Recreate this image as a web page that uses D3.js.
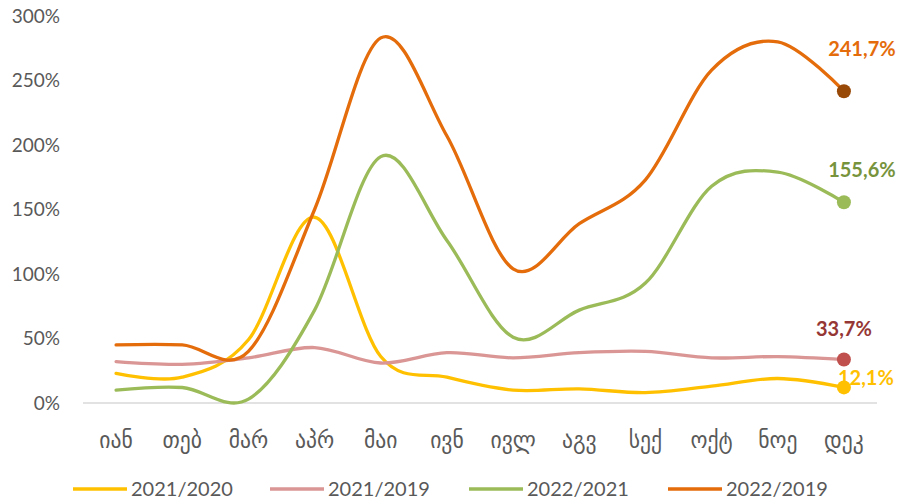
<!DOCTYPE html>
<html>
<head>
<meta charset="utf-8">
<script src="https://cdn.jsdelivr.net/npm/d3@7"></script>
<style>
  body { margin: 0; background: #fff; }
  text { font-family: "Lato", "DejaVu Sans Condensed", "DejaVu Sans", sans-serif; }
</style>
</head>
<body>
<div id="chart"></div>
<script>
// months (Georgian abbreviations)
var months = ["იან", "თებ", "მარ", "აპრ", "მაი", "ივნ", "ივლ", "აგვ", "სექ", "ოქტ", "ნოე", "დეკ"];

// percent values
var s2021_2020 = [23, 20, 49, 144, 36, 20, 10, 11, 8, 13, 19, 12.1];
var s2021_2019 = [32, 30, 35, 43, 31, 39, 35, 39, 40, 35, 36, 33.7];
var s2022_2021 = [10, 12, 3, 72, 191, 126, 51, 72, 93, 168, 179, 155.6];
var s2022_2019 = [45, 45, 40, 150, 283, 207, 104, 139, 173, 258, 280, 241.7];

var yTicks = [0, 50, 100, 150, 200, 250, 300];

var series = [
  {name: "2021/2020", values: s2021_2020, color: "#FFC000", marker: "#FFC000", label: "12,1%", labelColor: "#FFC000", dx: 22, dy: -9},
  {name: "2021/2019", values: s2021_2019, color: "#DA9694", marker: "#C0504D", label: "33,7%", labelColor: "#953735", dx: 0, dy: -31},
  {name: "2022/2021", values: s2022_2021, color: "#9BBB59", marker: "#9BBB59", label: "155,6%", labelColor: "#77933C", dx: 18, dy: -32},
  {name: "2022/2019", values: s2022_2019, color: "#E46C0A", marker: "#984807", label: "241,7%", labelColor: "#E46C0A", dx: 18, dy: -42}
];

var width = 902, height = 504;
var margin = {top: 16, right: 25, bottom: 101, left: 83};

var svg = d3.select("#chart").append("svg")
    .attr("width", width)
    .attr("height", height);

var x = d3.scalePoint()
    .domain(months)
    .range([margin.left, width - margin.right])
    .padding(0.5);

var y = d3.scaleLinear()
    .domain([0, 300])
    .range([height - margin.bottom, margin.top]);

// bottom axis line
svg.append("line")
    .attr("x1", margin.left)
    .attr("x2", width - margin.right)
    .attr("y1", y(0))
    .attr("y2", y(0))
    .style("stroke", "#D9D9D9")
    .style("stroke-width", 1.5);

// y tick labels
svg.append("g").selectAll("text")
    .data(yTicks)
  .enter().append("text")
    .attr("x", 60)
    .attr("y", function(d) { return y(d); })
    .attr("dy", ".35em")
    .attr("text-anchor", "end")
    .style("font-size", "19px")
    .style("fill", "#595959")
    .text(function(d) { return d + "%"; });

// month labels
svg.append("g").selectAll("text")
    .data(months)
  .enter().append("text")
    .attr("x", function(d) { return x(d); })
    .attr("y", 440)
    .attr("dy", ".35em")
    .attr("text-anchor", "middle")
    .style("font-size", "24px")
    .style("fill", "#595959")
    .text(function(d) { return d; });

var line = d3.line()
    .x(function(d, i) { return x(months[i]); })
    .y(function(d) { return y(d); })
    .curve(d3.curveCatmullRom.alpha(0));

// the lines
svg.append("g").selectAll("path")
    .data(series)
  .enter().append("path")
    .attr("d", function(d) { return line(d.values); })
    .style("fill", "none")
    .style("stroke", function(d) { return d.color; })
    .style("stroke-width", 3.3)
    .style("stroke-linecap", "round");

// end markers
svg.append("g").selectAll("circle")
    .data(series)
  .enter().append("circle")
    .attr("cx", x(months[11]))
    .attr("cy", function(d) { return y(d.values[11]); })
    .attr("r", 7)
    .style("fill", function(d) { return d.marker; });

// end labels
svg.append("g").selectAll("text")
    .data(series)
  .enter().append("text")
    .attr("x", function(d) { return x(months[11]) + d.dx; })
    .attr("y", function(d) { return y(d.values[11]) + d.dy; })
    .attr("dy", ".35em")
    .attr("text-anchor", "middle")
    .style("font-size", "20px")
    .style("font-weight", "bold")
    .style("fill", function(d) { return d.labelColor; })
    .text(function(d) { return d.label; });

// legend
var legendX = [73, 270, 469, 668];
var legend = svg.append("g").selectAll("g")
    .data(series)
  .enter().append("g")
    .attr("transform", function(d, i) { return "translate(" + legendX[i] + ",489)"; });

legend.append("line")
    .attr("x1", 0)
    .attr("x2", 54)
    .style("stroke", function(d) { return d.color; })
    .style("stroke-width", 3.3);

legend.append("text")
    .attr("x", 58)
    .attr("dy", ".35em")
    .style("font-size", "20px")
    .style("fill", "#595959")
    .text(function(d) { return d.name; });
</script>
</body>
</html>
